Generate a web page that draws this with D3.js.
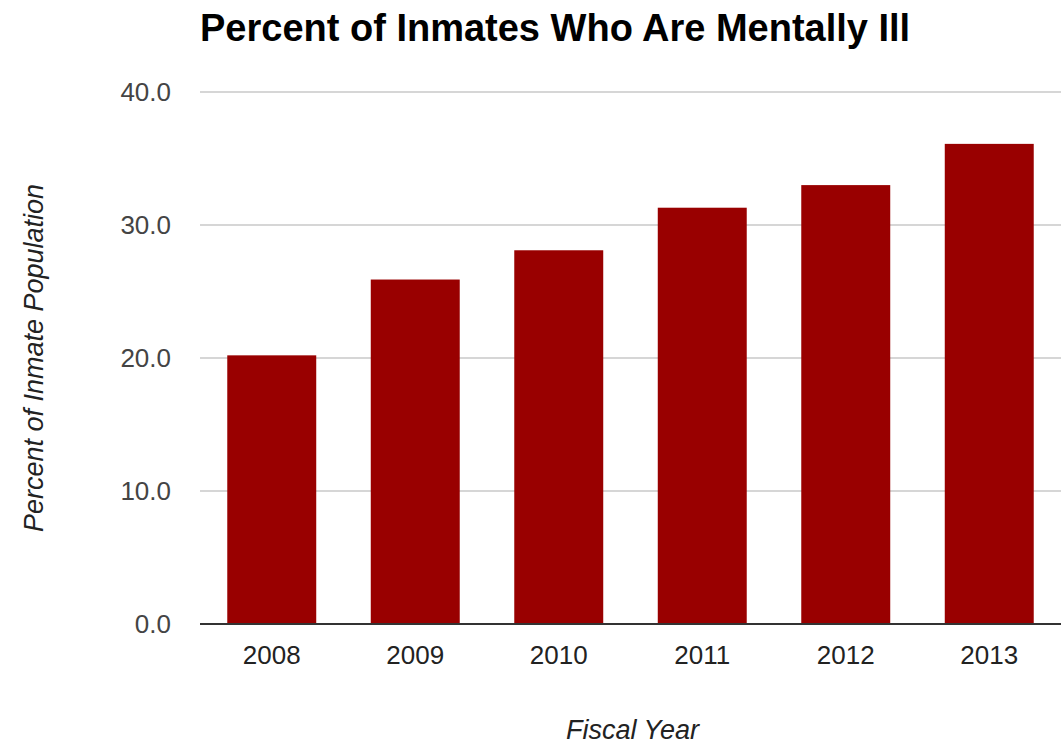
<!DOCTYPE html>
<html>
<head>
<meta charset="utf-8">
<script src="https://cdn.jsdelivr.net/npm/d3@7"></script>
<style>
  body { margin: 0; background: #fff; }
  text { font-family: "Liberation Sans", Arial, sans-serif; }
</style>
</head>
<body>
<svg id="chart"></svg>
<script>
let w = 1061;
let h = 744;

// data
const years = ['2008', '2009', '2010', '2011', '2012', '2013'];
const percents = [20.2, 25.9, 28.1, 31.3, 33.0, 36.1];
const yTicks = [0, 10, 20, 30, 40];

const plotLeft = 200, plotRight = 1061, plotTop = 92, plotBottom = 624;

const svg = d3.select('#chart')
  .attr('width', w)
  .attr('height', h)

const x = d3.scaleBand()
  .domain(years)
  .range([plotLeft, plotRight])
  .paddingInner(0.38)
  .paddingOuter(0.19)

const y = d3.scaleLinear()
  .domain([0, 40])
  .range([plotBottom, plotTop])

// gridlines
svg.append('g')
  .selectAll('line')
  .data(yTicks.filter(d => d > 0))
  .enter()
  .append('line')
  .attr('x1', plotLeft)
  .attr('x2', plotRight)
  .attr('y1', d => y(d))
  .attr('y2', d => y(d))
  .attr('stroke', '#d6d6d6')
  .attr('stroke-width', 2)

// bars
svg.append('g')
  .selectAll('rect')
  .data(percents)
  .enter()
  .append('rect')
  .attr('x', (d, i) => x(years[i]))
  .attr('y', d => y(d))
  .attr('width', x.bandwidth())
  .attr('height', d => y(0) - y(d))
  .attr('fill', '#990000')

// baseline
svg.append('line')
  .attr('x1', plotLeft)
  .attr('x2', plotRight)
  .attr('y1', y(0))
  .attr('y2', y(0))
  .attr('stroke', '#333')
  .attr('stroke-width', 2)

// y axis labels
const yAxis = d3.axisLeft(y)
  .tickValues(yTicks)
  .tickFormat(d3.format('.1f'))
  .tickSize(0)
  .tickPadding(29)

const yg = svg.append('g')
  .attr('transform', `translate(${plotLeft},0)`)
  .call(yAxis)
yg.select('.domain').remove()
yg.selectAll('text')
  .attr('font-size', 26)
  .attr('fill', '#444')
  .style('font-family', '"Liberation Sans", Arial, sans-serif')

// x axis labels
const xAxis = d3.axisBottom(x)
  .tickSize(0)
  .tickPadding(22)

const xg = svg.append('g')
  .attr('transform', `translate(0,${plotBottom})`)
  .call(xAxis)
xg.select('.domain').remove()
xg.selectAll('text')
  .attr('font-size', 26)
  .attr('fill', '#222')
  .style('font-family', '"Liberation Sans", Arial, sans-serif')

// title
svg.append('text')
  .attr('x', plotLeft)
  .attr('y', 41)
  .attr('font-size', 38)
  .attr('font-weight', 'bold')
  .attr('fill', '#000')
  .text('Percent of Inmates Who Are Mentally Ill')

// axis titles
svg.append('text')
  .attr('x', (plotLeft + plotRight) / 2 + 2)
  .attr('y', 739)
  .attr('text-anchor', 'middle')
  .attr('font-size', 27)
  .attr('font-style', 'italic')
  .attr('fill', '#222')
  .text('Fiscal Year')

svg.append('text')
  .attr('transform', `translate(43,${(plotTop + plotBottom) / 2}) rotate(-90)`)
  .attr('text-anchor', 'middle')
  .attr('font-size', 27)
  .attr('font-style', 'italic')
  .attr('fill', '#222')
  .text('Percent of Inmate Population')
</script>
</body>
</html>
